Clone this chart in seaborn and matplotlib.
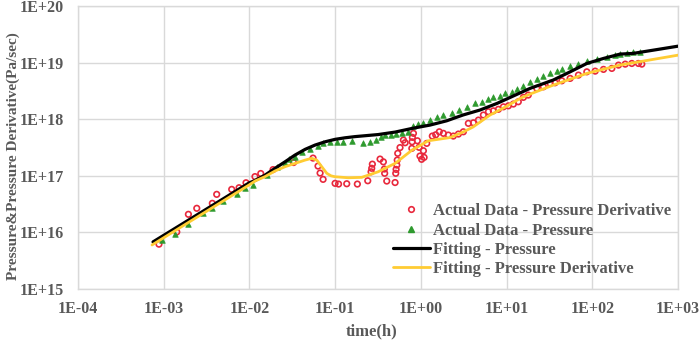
import matplotlib
matplotlib.use("Agg")
import matplotlib.pyplot as plt
import matplotlib.ticker as mticker
from matplotlib.lines import Line2D
import numpy as np
import pandas as pd
import seaborn as sns

# Measured data - pressure derivative (time h, Pa/sec)
deriv_t = [8.8e-4, 1.42e-3, 1.94e-3, 2.43e-3, 3.69e-3, 4.15e-3, 6.21e-3, 7.57e-3, 9.12e-3, 0.0116,
           0.01355, 0.01884, 0.0327, 0.0552, 0.0631, 0.0667, 0.0723, 0.0998, 0.1096, 0.1365,
           0.1815, 0.24, 0.2624, 0.267, 0.2716, 0.334, 0.365, 0.375, 0.378, 0.40,
           0.50, 0.509, 0.514, 0.524, 0.53, 0.537, 0.571, 0.625, 0.655, 0.784,
           0.79, 0.796, 0.819, 0.91, 0.953, 0.976, 1.02, 1.09, 1.07, 1.17,
           1.36, 1.49, 1.64, 1.83, 2.09, 2.39, 2.74, 3.13, 3.58, 4.10,
           4.69, 5.36, 6.14, 7.01, 8.02, 9.18, 10.5, 12.0, 13.7, 15.7,
           17.9, 22.5, 26.9, 32.2, 36.8, 44.1, 55.1, 68.9, 86.3, 108,
           135, 169, 202, 242, 289, 345, 378]
deriv_v = [6.2e15, 1.02e16, 2.09e16, 2.67e16, 3.27e16, 4.71e16, 5.77e16, 6.17e16, 7.55e16, 9.7e16,
           1.10e17, 1.29e17, 1.72e17, 2.06e17, 1.49e17, 1.12e17, 8.67e16, 7.37e16, 7.16e16, 7.25e16,
           7.16e16, 8.19e16, 1.18e17, 1.36e17, 1.61e17, 1.98e17, 1.77e17, 1.32e17, 1.11e17, 8.09e16,
           7.62e16, 1.11e17, 1.30e17, 1.55e17, 1.90e17, 2.5e17, 3.16e17, 4.29e17, 3.85e17, 3.06e17,
           4.0e17, 4.79e17, 5.64e17, 4.17e17, 3.19e17, 2.24e17, 1.96e17, 2.12e17, 2.78e17, 3.75e17,
           5.05e17, 5.32e17, 6.01e17, 5.64e17, 5.26e17, 5.05e17, 5.48e17, 6.01e17, 8.47e17, 8.67e17,
           9.68e17, 1.19e18, 1.36e18, 1.41e18, 1.50e18, 1.66e18, 1.73e18, 1.86e18, 2.04e18, 2.44e18,
           2.68e18, 3.52e18, 3.75e18, 4.31e18, 4.42e18, 4.79e18, 5.28e18, 6.04e18, 6.9e18, 7.1e18,
           7.62e18, 7.93e18, 9.07e18, 9.44e18, 9.7e18, 9.7e18, 9.44e18]

# Measured data - pressure
press_t = [9.55e-4, 1.36e-3, 1.92e-3, 2.88e-3, 3.66e-3, 4.92e-3, 7.16e-3, 8.89e-3, 0.011, 0.016,
           0.021, 0.026, 0.029, 0.034, 0.0411, 0.0509, 0.0631, 0.0723, 0.0871, 0.105,
           0.124, 0.157, 0.212, 0.255, 0.30, 0.344, 0.382, 0.449, 0.514, 0.604,
           0.71, 0.811, 0.927, 1.06, 1.28, 1.55, 1.82, 2.31, 2.79, 3.46,
           4.29, 5.18, 6.08, 6.95, 8.4, 9.6, 11.6, 13.3, 15.6, 18.8,
           22.7, 26.7, 32.2, 38.8, 44.5, 55.1, 68.2, 86.9, 114, 149,
           185, 211, 255, 299, 361]
press_v = [7.35e15, 9.4e15, 1.41e16, 2.2e16, 2.7e16, 3.66e16, 4.87e16, 6.08e16, 7.02e16, 1.03e17,
           1.43e17, 1.68e17, 1.98e17, 2.19e17, 2.63e17, 2.94e17, 3.36e17, 3.8e17, 4.0e17, 4.0e17,
           4.0e17, 4.12e17, 3.85e17, 4.0e17, 4.29e17, 4.91e17, 5.26e17, 5.26e17, 5.41e17, 5.64e17,
           5.94e17, 7.59e17, 8.23e17, 8.47e17, 9.68e17, 1.08e18, 1.21e18, 1.30e18, 1.46e18, 1.62e18,
           1.91e18, 2.04e18, 2.25e18, 2.44e18, 2.6e18, 2.87e18, 3.06e18, 3.37e18, 3.86e18, 4.54e18,
           5.24e18, 5.92e18, 6.55e18, 7.25e18, 7.87e18, 8.71e18, 9.64e18, 1.07e19, 1.18e19, 1.28e19,
           1.36e19, 1.42e19, 1.48e19, 1.54e19, 1.56e19]

# Fitted curves
fit_p_t = [7.5e-4, 9.9e-3, 0.0116, 0.0152, 0.0199, 0.026, 0.034, 0.0446, 0.0582, 0.0762,
           0.0998, 0.1306, 0.1706, 0.317, 0.5, 0.79, 1.28, 2.0, 3.10, 4.91,
           7.74, 11.9, 18.8, 34.9, 55.1, 86.3, 135, 211, 299, 1000]
fit_p_v = [6.8e15, 7.5e16, 8.26e16, 1.03e17, 1.36e17, 1.77e17, 2.33e17, 2.94e17, 3.5e17, 4.0e17,
           4.42e17, 4.71e17, 4.94e17, 5.37e17, 5.94e17, 6.9e17, 7.9e17, 9.4e17, 1.19e18, 1.46e18,
           1.91e18, 2.57e18, 3.52e18, 4.93e18, 6.9e18, 9.7e18, 1.19e19, 1.42e19, 1.46e19, 1.96e19]

fit_d_t = [7.3e-4, 9.9e-3, 0.0116, 0.0152, 0.0199, 0.026, 0.034, 0.0446, 0.0533, 0.061,
           0.0698, 0.0798, 0.0896, 0.0998, 0.142, 0.204, 0.317, 0.5, 0.79, 1.22,
           1.67, 2.19, 3.10, 4.06, 6.41, 10.1, 14.4, 18.8, 35.0, 86.3,
           211, 1000]
fit_d_v = [6.0e15, 6.9e16, 8.1e16, 9.7e16, 1.22e17, 1.45e17, 1.66e17, 1.90e17, 2.04e17, 1.90e17,
           1.45e17, 1.11e17, 1.0e17, 9.64e16, 9.25e16, 9.4e16, 1.18e17, 1.66e17, 2.86e17, 4.17e17,
           4.47e17, 4.75e17, 5.94e17, 7.3e17, 1.19e18, 1.71e18, 2.34e18, 2.79e18, 4.02e18, 6.47e18,
           9.1e18, 1.36e19]

# Axis ticks
x_ticks = [1e-4, 1e-3, 1e-2, 1e-1, 1e0, 1e1, 1e2, 1e3]
y_ticks = [1e15, 1e16, 1e17, 1e18, 1e19, 1e20]

sns.set_style("whitegrid")
plt.rcParams['font.family'] = ['Liberation Serif', 'DejaVu Serif']
plt.rcParams['font.weight'] = 'bold'

text_gray = '#595959'
grid_gray = '#D9D9D9'
red = '#E8283C'
green = '#2E9A2E'
gold = '#FFCC33'

deriv_df = pd.DataFrame({'t': deriv_t, 'v': deriv_v})
press_df = pd.DataFrame({'t': press_t, 'v': press_v})
fit_p_df = pd.DataFrame({'t': fit_p_t, 'v': fit_p_v})
fit_d_df = pd.DataFrame({'t': fit_d_t, 'v': fit_d_v})

fig, ax = plt.subplots(figsize=(6.99, 3.41), dpi=100)
fig.subplots_adjust(left=0.1116, right=0.970, bottom=0.1525, top=0.982)

sns.scatterplot(data=deriv_df, x='t', y='v', ax=ax, marker='o', s=16,
                facecolor='none', edgecolor=red, linewidth=1.2, zorder=3)
sns.scatterplot(data=press_df, x='t', y='v', ax=ax, marker='^', s=16,
                color=green, edgecolor=green, linewidth=0.5, zorder=3)
sns.lineplot(data=fit_p_df, x='t', y='v', ax=ax, color='black', linewidth=2.3,
             sort=False, zorder=4)
sns.lineplot(data=fit_d_df, x='t', y='v', ax=ax, color=gold, linewidth=2.0,
             sort=False, zorder=4)

ax.set_xscale('log')
ax.set_yscale('log')
ax.set_xlim(x_ticks[0], x_ticks[-1])
ax.set_ylim(y_ticks[0], y_ticks[-1])

fmt = mticker.FuncFormatter(lambda v, p: f"1E{int(round(np.log10(v))):+03d}")
ax.xaxis.set_major_locator(mticker.FixedLocator(x_ticks))
ax.yaxis.set_major_locator(mticker.FixedLocator(y_ticks))
ax.xaxis.set_minor_locator(mticker.NullLocator())
ax.yaxis.set_minor_locator(mticker.NullLocator())
ax.xaxis.set_major_formatter(fmt)
ax.yaxis.set_major_formatter(fmt)
ax.tick_params(axis='both', length=0, labelsize=11.5, labelcolor=text_gray)
ax.tick_params(axis='x', pad=9)
ax.tick_params(axis='y', pad=10)
for lab in ax.get_xticklabels() + ax.get_yticklabels():
    lab.set_fontweight('bold')

ax.grid(True, color=grid_gray, linewidth=1.0)
for sp in ax.spines.values():
    sp.set_color(grid_gray)
    sp.set_linewidth(1.0)

ax.set_xlabel('time(h)', fontsize=12, fontweight='bold', color=text_gray)
ax.xaxis.set_label_coords(0.49, -0.122)
ax.xaxis.label.set_verticalalignment('top')
ax.set_ylabel('Pressure&Pressure Derivative(Pa/sec)', fontsize=11, fontweight='bold',
              color=text_gray)
ax.yaxis.set_label_coords(-0.096, 0.47)

handles = [
    Line2D([], [], linestyle='none', marker='o', markersize=4, markerfacecolor='none',
           markeredgecolor=red, markeredgewidth=1.2),
    Line2D([], [], linestyle='none', marker='^', markersize=4, color=green),
    Line2D([], [], color='black', linewidth=2.3),
    Line2D([], [], color=gold, linewidth=2.0),
]
labels = ['Actual Data - Pressure Derivative', 'Actual Data - Pressure',
          'Fitting - Pressure', 'Fitting - Pressure Derivative']
leg = ax.legend(handles, labels, loc='upper left', bbox_to_anchor=(0.525, 0.303),
                frameon=False, fontsize=12, handlelength=2.2, handletextpad=0.2,
                labelspacing=0.2, borderaxespad=0, borderpad=0)
for t in leg.get_texts():
    t.set_color(text_gray)
    t.set_fontweight('bold')

fig.savefig('out.png', dpi=100)
